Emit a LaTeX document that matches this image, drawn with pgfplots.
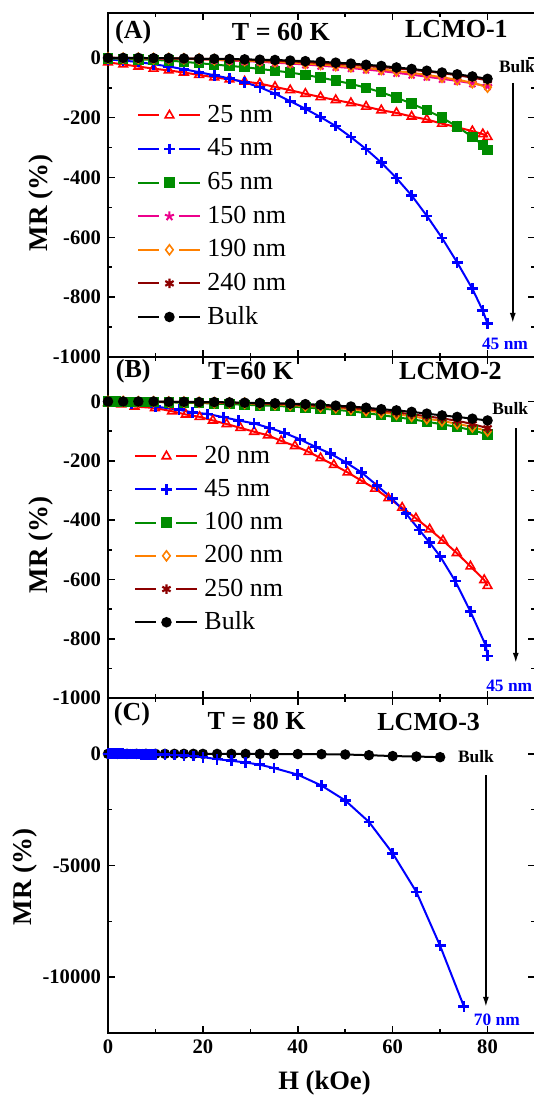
\documentclass[border=0pt]{standalone}
\usepackage{fontspec}
\setmainfont{Liberation Serif}
\usepackage{pgfplots}
\pgfplotsset{compat=1.18}
\usetikzlibrary{arrows.meta}
\definecolor{cgreen}{RGB}{0,140,0}
\definecolor{corange}{RGB}{255,128,0}
\definecolor{cdred}{RGB}{140,0,0}
\tikzset{
  ttl/.style={font=\fontsize{13}{15}\selectfont\bfseries},
  smalllab/.style={font=\fontsize{8.7}{10}\selectfont\bfseries, anchor=west, inner sep=0pt},
}
\pgfplotsset{
  panel/.style={
    scale only axis, width=213.5pt, xmin=0, xmax=90, clip=false,
    xtick={0,20,40,60,80}, minor x tick num=1, scaled y ticks=false,
    tick align=inside, major tick length=3.5pt, minor tick length=2pt,
    tick style={black, line width=0.8pt},
    axis line style={line width=1pt},
    ticklabel style={font=\fontsize{10.3}{12}\selectfont\bfseries},
    ylabel style={font=\fontsize{13.5}{15}\selectfont\bfseries, anchor=center},
    every axis plot/.append style={line width=1pt},
    legend cell align=left,
    legend image code/.code={
      \draw[##1] (0pt,0pt) -- (10.5pt,0pt);
      \draw[##1] (20.5pt,0pt) -- (31pt,0pt);
      \draw[##1] plot coordinates {(15.5pt,0pt)};
    },
  },
  s25/.style={red, mark=triangle, mark size=2.5pt, mark options={fill=white, line width=0.8pt}},
  s45/.style={blue, mark=+, mark size=2.7pt, mark options={line width=1.3pt}},
  s65/.style={cgreen, mark=square*, mark size=2.1pt},
  s150/.style={magenta, mark=star, mark size=2.4pt, mark options={line width=1pt}},
  s190/.style={corange, mark=diamond, mark size=2.5pt, mark options={fill=white, line width=0.8pt}},
  s240/.style={cdred, mark=asterisk, mark size=2.4pt, mark options={line width=1.1pt}},
  sbulk/.style={black, mark=*, mark size=2.1pt},
}
\begin{document}
\begin{tikzpicture}
%================ Panel A ================
\begin{axis}[panel, name=A, at={(0,0)}, anchor=north west,
  height=172pt, ymin=-1000, ymax=150,
  ytick={-1000,-800,-600,-400,-200,0}, yticklabels={-1000,-800,-600,-400,-200,0},
  minor y tick num=1, xticklabels={},
  ylabel={MR (\%)}, ylabel style={at={(axis description cs:-0.158,0.448)}},
  legend style={draw=none, fill=none, at={(0.054,0.75)}, anchor=north west,
    font=\fontsize{13}{14}\selectfont, row sep=4.8pt, column sep=3pt,
    nodes={inner sep=0pt, text height=9.5pt, text depth=2.5pt}},
]
\addplot[s25] coordinates {(0,-15)(3.2,-22)(6.4,-29)(9.6,-36)(12.8,-42)(16,-49)(19.2,-57)(22.4,-65)(25.6,-72)(28.8,-79)(32,-86)(35.2,-97)(38.4,-108)(41.6,-120)(44.8,-131)(48,-141)(51.2,-151)(54.4,-163)(57.6,-175)(60.8,-184)(64,-196)(67.2,-206)(70.4,-220)(73.6,-232)(76.8,-245)(79,-255)(80,-264)};
\addlegendentry{25 nm}
\addplot[s45] coordinates {(0,-5)(3.2,-9)(6.4,-14)(9.6,-21)(12.8,-29)(16,-38)(19.2,-48)(22.4,-58)(25.6,-69)(28.8,-82)(32,-98)(35.2,-120)(38.4,-145)(41.6,-170)(44.8,-198)(48,-228)(51.2,-265)(54.4,-305)(57.6,-350)(60.8,-402)(64,-460)(67.2,-528)(70.4,-602)(73.6,-684)(76.8,-772)(79,-845)(80,-889)};
\addlegendentry{45 nm}
\addplot[s65] coordinates {(0,-2)(3.2,-3)(6.4,-5)(9.6,-7)(12.8,-9)(16,-13)(19.2,-18)(22.4,-22)(25.6,-27)(28.8,-31)(32,-37)(35.2,-43)(38.4,-49)(41.6,-57)(44.8,-66)(48,-76)(51.2,-87)(54.4,-100)(57.6,-115)(60.8,-133)(64,-153)(67.2,-175)(70.4,-200)(73.6,-230)(76.8,-264)(79,-292)(80,-309)};
\addlegendentry{65 nm}
\addplot[s150] coordinates {(0,0)(3.2,-1)(6.4,-1)(9.6,-2)(12.8,-3)(16,-4)(19.2,-5)(22.4,-7)(25.6,-9)(28.8,-11)(32,-13)(35.2,-16)(38.4,-19)(41.6,-22)(44.8,-26)(48,-30)(51.2,-34)(54.4,-39)(57.6,-44)(60.8,-50)(64,-56)(67.2,-63)(70.4,-70)(73.6,-77)(76.8,-85)(80,-95)};
\addlegendentry{150 nm}
\addplot[s190] coordinates {(0,0)(3.2,-1)(6.4,-1)(9.6,-2)(12.8,-2)(16,-3)(19.2,-4)(22.4,-6)(25.6,-7)(28.8,-9)(32,-11)(35.2,-13)(38.4,-16)(41.6,-19)(44.8,-22)(48,-26)(51.2,-30)(54.4,-34)(57.6,-39)(60.8,-44)(64,-50)(67.2,-57)(70.4,-65)(73.6,-73)(76.8,-83)(80,-98)};
\addlegendentry{190 nm}
\addplot[s240] coordinates {(0,0)(3.2,0)(6.4,-1)(9.6,-1)(12.8,-2)(16,-2)(19.2,-3)(22.4,-4)(25.6,-5)(28.8,-7)(32,-8)(35.2,-10)(38.4,-12)(41.6,-14)(44.8,-17)(48,-20)(51.2,-23)(54.4,-27)(57.6,-31)(60.8,-35)(64,-40)(67.2,-45)(70.4,-51)(73.6,-58)(76.8,-66)(80,-75)};
\addlegendentry{240 nm}
\addplot[sbulk] coordinates {(0,0)(3.2,0)(6.4,0)(9.6,-1)(12.8,-1)(16,-2)(19.2,-3)(22.4,-3)(25.6,-4)(28.8,-5)(32,-6)(35.2,-7)(38.4,-9)(41.6,-11)(44.8,-13)(48,-16)(51.2,-19)(54.4,-23)(57.6,-27)(60.8,-32)(64,-37)(67.2,-43)(70.4,-49)(73.6,-55)(76.8,-62)(80,-70)};
\addlegendentry{Bulk}
\node[ttl] at (axis description cs:0.059,0.945) {(A)};
\node[ttl] at (axis description cs:0.405,0.945) {T = 60 K};
\node[ttl] at (axis description cs:0.816,0.952) {LCMO-1};
\node[smalllab] at (axis description cs:0.915,0.843) {Bulk};
\draw[-{Latex[length=5pt,width=3pt]}, line width=0.8pt] (axis description cs:0.948,0.797) -- (axis description cs:0.948,0.099);
\node[smalllab, text=blue] at (axis description cs:0.875,0.038) {45 nm};
\end{axis}
%================ Panel B ================
\begin{axis}[panel, name=B, at={(0,-172pt)}, anchor=north west,
  height=170.5pt, ymin=-1000, ymax=150,
  ytick={-1000,-800,-600,-400,-200,0}, yticklabels={-1000,-800,-600,-400,-200,0},
  minor y tick num=1, xticklabels={},
  ylabel={MR (\%)}, ylabel style={at={(axis description cs:-0.158,0.449)}},
  legend style={draw=none, fill=none, at={(0.047,0.757)}, anchor=north west,
    font=\fontsize{13}{14}\selectfont, row sep=4.6pt, column sep=3pt,
    nodes={inner sep=0pt, text height=9.5pt, text depth=2.5pt}},
]
\addplot[s25] coordinates {(0,-5)(2.8,-10)(5.6,-17)(9.9,-22)(13.5,-33)(16.4,-44)(19.3,-52)(22.1,-64)(25,-76)(27.9,-89)(30.8,-102)(33.7,-114)(36.5,-133)(39.4,-150)(42.3,-170)(44.8,-191)(47.6,-214)(50.5,-239)(53.4,-267)(56.3,-294)(59.1,-326)(62,-358)(64.9,-394)(67.8,-431)(70.6,-469)(73.5,-511)(76.4,-556)(79.3,-602)(80,-622)};
\addlegendentry{20 nm}
\addplot[s45] coordinates {(0,-2)(5,-8)(10,-17)(15,-28)(17.8,-37)(21,-42)(24.3,-53)(27.5,-64)(30.8,-74)(34,-89)(37.2,-106)(40.5,-128)(43.7,-153)(46.9,-176)(50.2,-206)(53.4,-239)(56.7,-283)(59.9,-328)(62.8,-378)(65.6,-433)(67.8,-476)(70,-522)(73.2,-606)(76.4,-709)(79.6,-822)(80,-858)};
\addlegendentry{45 nm}
\addplot[s65] coordinates {(0,0)(1.6,0)(3.2,-1)(4.8,-1)(6.4,-1)(8,-2)(9.6,-2)(12.8,-3)(16,-4)(19.2,-5)(22.4,-7)(25.6,-9)(28.8,-11)(32,-13)(35.2,-15)(38.4,-17)(41.6,-20)(44.8,-24)(48,-28)(51.2,-33)(54.4,-39)(57.6,-46)(60.8,-53)(64,-60)(67.2,-68)(70.4,-77)(73.6,-86)(76.8,-97)(80,-111)};
\addlegendentry{100 nm}
\addplot[s190] coordinates {(0,0)(3.2,0)(6.4,-1)(9.6,-1)(12.8,-2)(16,-2)(19.2,-3)(22.4,-4)(25.6,-5)(28.8,-6)(32,-8)(35.2,-10)(38.4,-12)(41.6,-15)(44.8,-18)(48,-21)(51.2,-26)(54.4,-31)(57.6,-37)(60.8,-43)(64,-50)(67.2,-58)(70.4,-66)(73.6,-75)(76.8,-86)(80,-100)};
\addlegendentry{200 nm}
\addplot[s240] coordinates {(0,0)(3.2,0)(6.4,-1)(9.6,-1)(12.8,-1)(16,-2)(19.2,-3)(22.4,-3)(25.6,-4)(28.8,-5)(32,-7)(35.2,-8)(38.4,-10)(41.6,-12)(44.8,-15)(48,-18)(51.2,-22)(54.4,-26)(57.6,-31)(60.8,-37)(64,-43)(67.2,-50)(70.4,-57)(73.6,-65)(76.8,-76)(80,-90)};
\addlegendentry{250 nm}
\addplot[sbulk] coordinates {(0,0)(3.2,0)(6.4,0)(9.6,0)(12.8,-1)(16,-1)(19.2,-2)(22.4,-2)(25.6,-3)(28.8,-4)(32,-5)(35.2,-6)(38.4,-7)(41.6,-9)(44.8,-11)(48,-14)(51.2,-17)(54.4,-21)(57.6,-26)(60.8,-30)(64,-35)(67.2,-41)(70.4,-47)(73.6,-52)(76.8,-58)(80,-64)};
\addlegendentry{Bulk}
\node[ttl] at (axis description cs:0.059,0.959) {(B)};
\node[ttl] at (axis description cs:0.334,0.959) {T=60 K};
\node[ttl] at (axis description cs:0.802,0.959) {LCMO-2};
\node[smalllab] at (axis description cs:0.899,0.850) {Bulk};
\draw[-{Latex[length=5pt,width=3pt]}, line width=0.8pt] (axis description cs:0.955,0.792) -- (axis description cs:0.955,0.103);
\node[smalllab, text=blue] at (axis description cs:0.885,0.035) {45 nm};
\end{axis}
%================ Panel C ================
\begin{axis}[panel, name=C, at={(0,-342.5pt)}, anchor=north west,
  height=167.5pt, ymin=-12500, ymax=2500,
  ytick={-10000,-5000,0}, yticklabels={-10000,-5000,0},
  minor y tick num=1,
  xticklabels={0,20,40,60,80},
  xlabel={H (kOe)}, xlabel style={font=\fontsize{13.3}{15}\selectfont\bfseries, at={(axis description cs:0.507,-0.149)}, anchor=center},
  ylabel={MR (\%)}, ylabel style={at={(axis description cs:-0.194,0.466)}},
]
\addplot[sbulk] coordinates {(0,0)(2,0)(4,0)(6,0)(8,0)(10,0)(12,0)(14,0)(16,0)(18,0)(20,-2)(23,-3)(26,-4)(29,-5)(32,-6)(35,-8)(40,-10)(45,-15)(50,-30)(55,-60)(60,-100)(65,-120)(70,-150)};
\addplot[s45] coordinates {(0,0)(0.5,0)(1,0)(1.5,-1)(2,-1)(2.5,-2)(3,-2)(3.5,-3)(4,-4)(4.5,-5)(5,-6)(5.5,-7)(6,-8)(6.5,-10)(7,-12)(7.5,-14)(8,-16)(8.5,-18)(9,-21)(9.5,-24)(10,-27)(12,-40)(14,-55)(16,-75)(18,-100)(20,-148)(23,-237)(26,-311)(29,-385)(32,-488)(35,-636)(40,-932)(45,-1420)(50,-2086)(55,-3047)(60,-4453)(65,-6183)(70,-8595)(75,-11300)};
\node[ttl] at (axis description cs:0.056,0.952) {(C)};
\node[ttl] at (axis description cs:0.348,0.931) {T = 80 K};
\node[ttl] at (axis description cs:0.751,0.928) {LCMO-3};
\node[smalllab] at (axis description cs:0.819,0.824) {Bulk};
\draw[-{Latex[length=5pt,width=3pt]}, line width=0.8pt] (axis description cs:0.885,0.770) -- (axis description cs:0.885,0.078);
\node[smalllab, text=blue] at (axis description cs:0.856,0.039) {70 nm};
\end{axis}
\pgfresetboundingbox
\useasboundingbox (-54pt,6.5pt) rectangle (213pt,-544pt);
\end{tikzpicture}
\end{document}
